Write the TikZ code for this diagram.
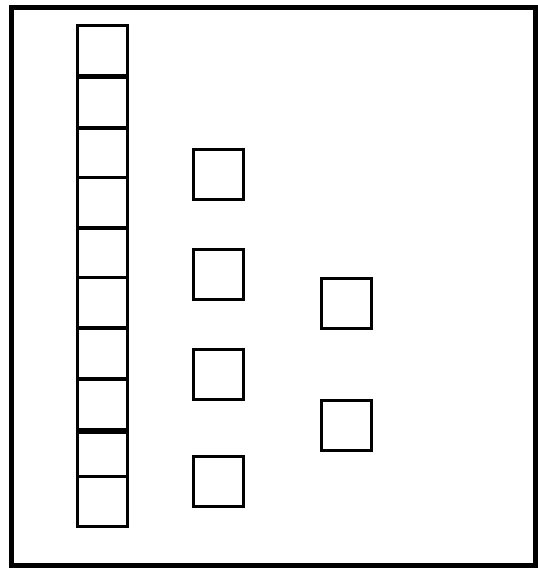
\documentclass[tikz,border=0pt]{standalone}
\begin{document}
\begin{tikzpicture}[x=1bp, y=-1bp,
  cell/.style={draw, line width=3.4bp, fill=white, minimum size=50bp, inner sep=0pt, anchor=north west}]
\useasboundingbox (0,0) rectangle (538,568);
% outer frame
\draw[line width=5bp] (11.5,7.5) rectangle (535.5,565.5);
% left column: stacked cells
\foreach \top [count=\i] in {24,76,126.5,176,226.5,276,326.5,378,431,475}
  \node[cell] (left\i) at (75.5,\top) {};
% middle column
\foreach \top [count=\i] in {148,248,348,455}
  \node[cell] (mid\i) at (191.5,\top) {};
% right column
\foreach \top [count=\i] in {277,399}
  \node[cell] (right\i) at (319.5,\top) {};
\end{tikzpicture}
\end{document}
